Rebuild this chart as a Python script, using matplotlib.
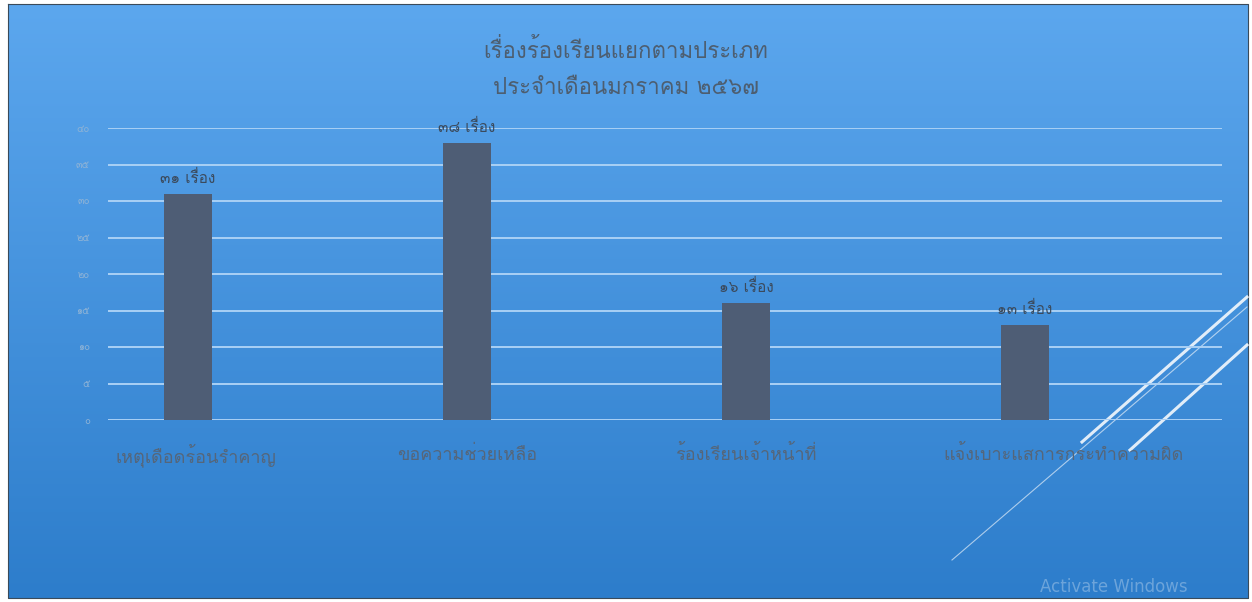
import numpy as np
import matplotlib
matplotlib.use('Agg')
import matplotlib.pyplot as plt
import matplotlib.transforms as mtransforms
from matplotlib import font_manager
from matplotlib.ft2font import FT2Font

# ข้อมูล
title_lines = ["เรื่องร้องเรียนแยกตามประเภท", "ประจำเดือนมกราคม ๒๕๖๗"]
categories = ["เหตุเดือดร้อนรำคาญ", "ขอความช่วยเหลือ", "ร้องเรียนเจ้าหน้าที่", "แจ้งเบาะแสการกระทำความผิด"]
values = [31, 38, 16, 13]
value_labels = ["๓๑ เรื่อง", "๓๘ เรื่อง", "๑๖ เรื่อง", "๑๓ เรื่อง"]
yticks = [0, 5, 10, 15, 20, 25, 30, 35, 40]
ytick_labels = ["๐", "๕", "๑๐", "๑๕", "๒๐", "๒๕", "๓๐", "๓๕", "๔๐"]


def find_thai_fonts():
    # หาฟอนต์ที่มีอักษรไทย
    found = []
    for f in font_manager.fontManager.ttflist:
        try:
            cmap = FT2Font(f.fname).get_charmap()
        except Exception:
            continue
        if ord('ก') in cmap and f.name not in found:
            found.append(f.name)
    return found


thai = find_thai_fonts()
families = thai[:1] + ['DejaVu Sans']
plt.rcParams['font.family'] = families

W, H = 1252, 602
fig = plt.figure(figsize=(W / 100, H / 100), dpi=100)
fig.patch.set_facecolor('white')

# พื้นหลังไล่สี
bg = fig.add_axes([0, 0, 1, 1])
bg.set_xlim(0, W)
bg.set_ylim(H, 0)
bg.axis('off')
top = np.array([0x5c, 0xa7, 0xee]) / 255
bot = np.array([0x2d, 0x7d, 0xcb]) / 255
t = np.linspace(0, 1, 256)[:, None, None]
grad = top * (1 - t) + bot * t
grad = np.repeat(grad, 4, axis=1)
bg.imshow(grad, extent=[8, 1248, 598, 4], aspect='auto', zorder=0)
bg.plot([8, 1248, 1248, 8, 8], [4, 4, 598, 598, 4], color='#3a4a5a', lw=0.8, zorder=1)
# เส้นตกแต่งมุมขวาล่าง
bg.plot([1082, 1247], [442, 297], color='white', lw=2.2, alpha=0.85, zorder=2)
bg.plot([1130, 1247], [450, 345], color='white', lw=2.2, alpha=0.85, zorder=2)
bg.plot([952, 1247], [560, 307], color='white', lw=0.8, alpha=0.6, zorder=2)
bg.text(1040, 596, "Activate Windows", color='white', alpha=0.3, fontsize=12,
        family=['DejaVu Sans'], va='bottom', ha='left', zorder=2)

# หัวเรื่อง
bg.text(626, 51, title_lines[0], ha='center', va='center', fontsize=16, color='#4d5e70')
bg.text(626, 89, title_lines[1], ha='center', va='center', fontsize=16, color='#4d5e70')

ax = fig.add_axes([108 / W, 1 - 420 / H, (1222 - 108) / W, (420 - 128) / H])
ax.patch.set_alpha(0)
x = np.arange(len(categories))
ax.bar(x, values, width=0.175, color='#4e5d75', zorder=3)
for xi, v, lab in zip(x, values, value_labels):
    ax.text(xi, v + 1.1, lab, ha='center', va='bottom', fontsize=11, color='#3b4a5c', zorder=4)

ax.set_xlim(-0.287, 3.706)
ax.set_ylim(0, 40)
ax.set_yticks(yticks)
ax.set_yticklabels(ytick_labels, fontsize=7, color='#8fb3d6')
ax.set_xticks(x)
ax.set_xticklabels(categories, fontsize=13, color='#55667a')
ax.tick_params(axis='both', length=0)
ax.tick_params(axis='x', pad=25)
ax.tick_params(axis='y', pad=13)
# ป้ายแกน x ในภาพต้นฉบับเยื้องไปทางขวาเล็กน้อย
shifts = [8, 0, 0, 38]
for lab, dx in zip(ax.get_xticklabels(), shifts):
    lab.set_va('center')
    lab.set_transform(lab.get_transform() + mtransforms.Affine2D().translate(dx, 0))
ax.grid(axis='y', color='#a9d0f5', lw=1.4, zorder=1)
for s in ax.spines.values():
    s.set_visible(False)

fig.savefig('out.png', dpi=100, facecolor='white')
